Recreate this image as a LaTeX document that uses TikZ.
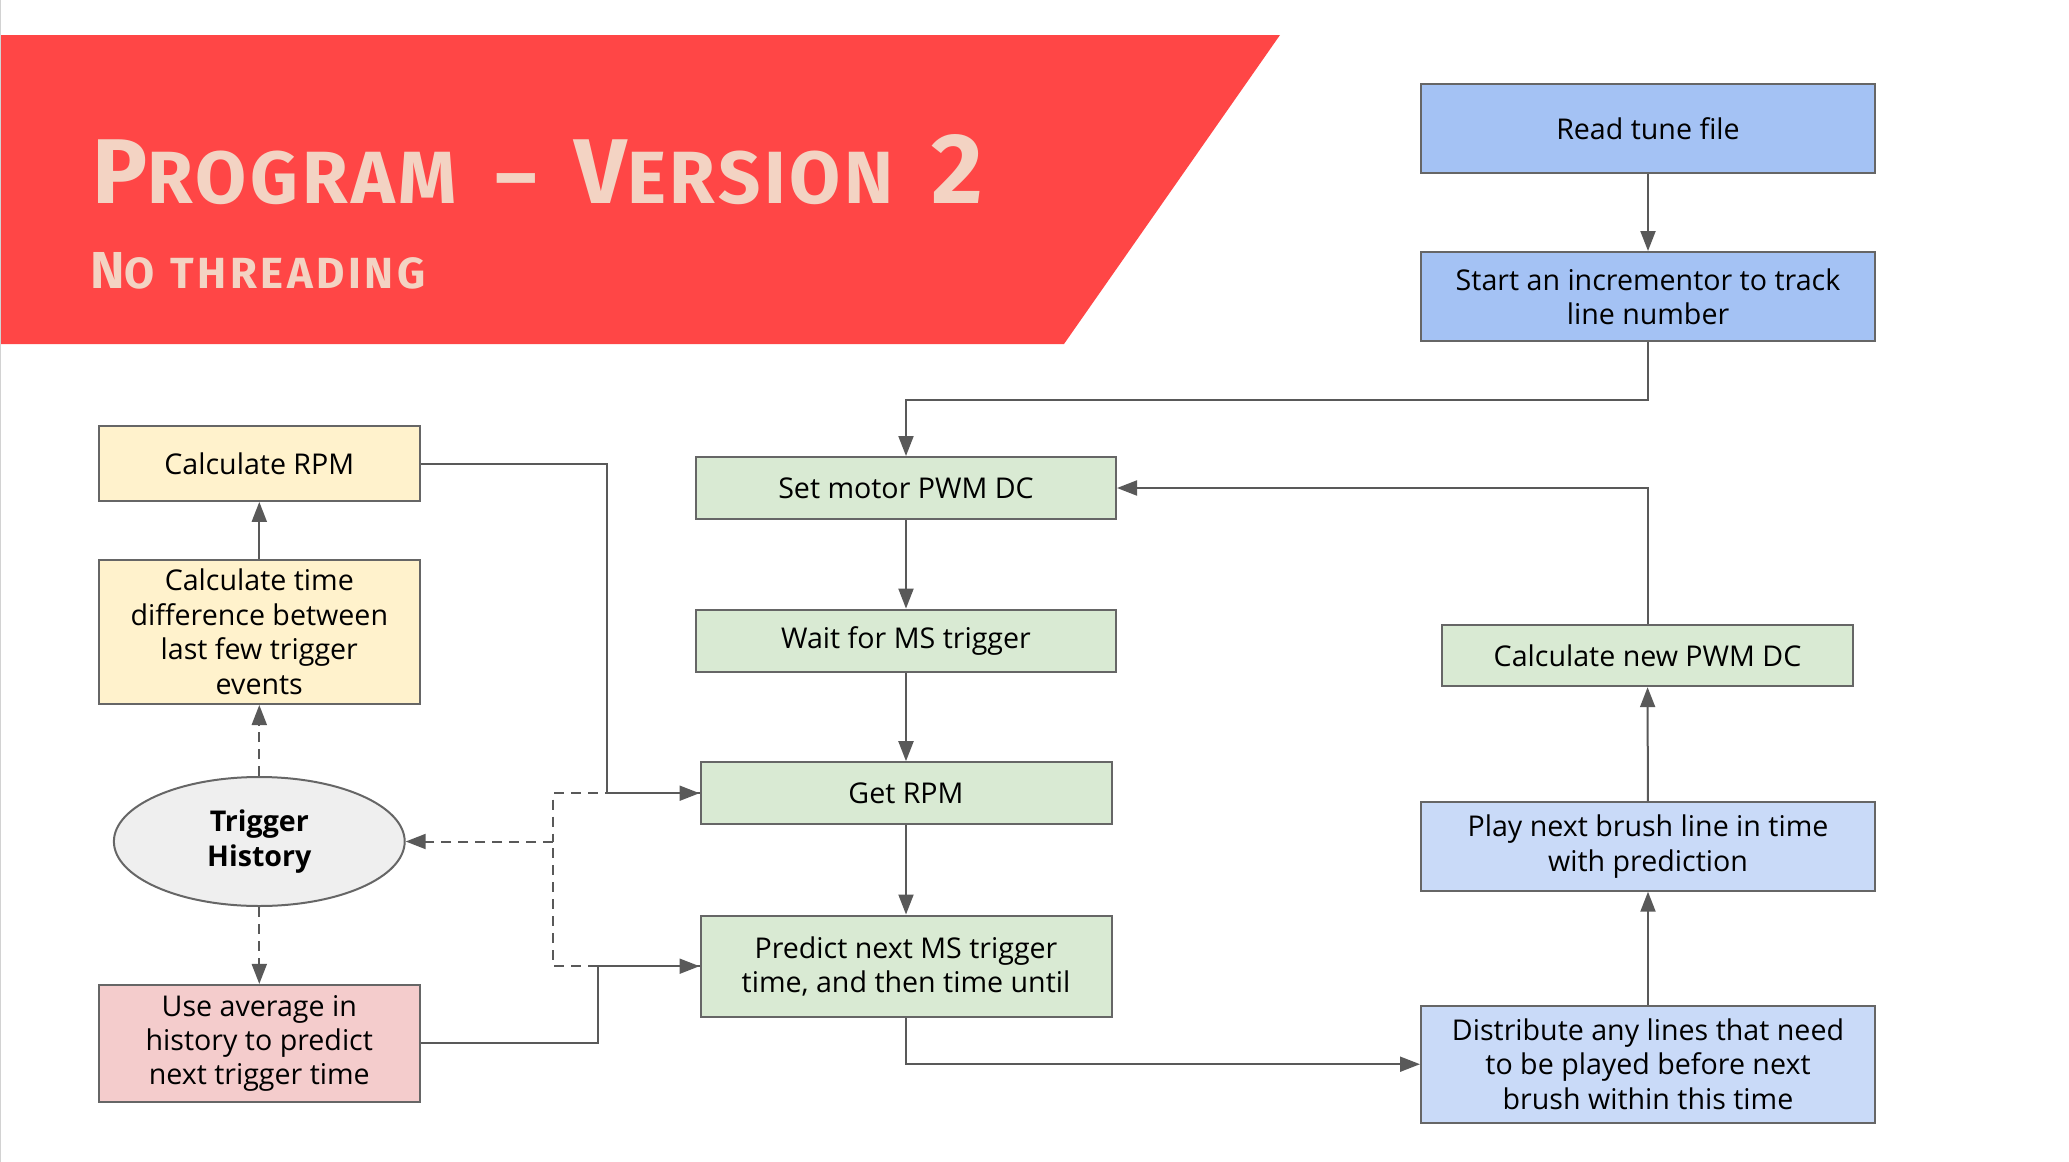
\documentclass[tikz,border=0pt]{standalone}
\usepackage{fontspec}
\setmainfont{Open Sans}
\newfontfamily\titlefont{Fira Sans}
\usetikzlibrary{arrows.meta,positioning,shapes.geometric}
\definecolor{banner}{HTML}{FF4646}
\definecolor{peach}{HTML}{F3D3C3}
\definecolor{edge}{HTML}{666666}
\definecolor{wire}{HTML}{595959}
\definecolor{tuneblue}{HTML}{A4C2F4}
\definecolor{brushblue}{HTML}{C9DAF8}
\definecolor{motorgreen}{HTML}{D9EAD3}
\definecolor{rpmyellow}{HTML}{FFF2CC}
\definecolor{predpink}{HTML}{F4CCCC}
\definecolor{histgray}{HTML}{EFEFEF}
\newcommand\boxfont{\fontsize{14.3}{17.2}\selectfont}
\newcommand\tcap[4]{{\fontsize{#1}{#1}\selectfont #3}{\fontsize{#2}{#2}\selectfont #4}}
\tikzset{
	blk/.style={draw=edge, line width=1pt, align=center, font=\boxfont,
		inner sep=2pt, text=black},
	tune/.style={blk, fill=tuneblue},
	brush/.style={blk, fill=brushblue},
	motor/.style={blk, fill=motorgreen},
	rpm/.style={blk, fill=rpmyellow},
	pred/.style={blk, fill=predpink},
	hist/.style={blk, ellipse, fill=histgray, inner sep=0pt, font=\boxfont\bfseries},
	ar/.style={draw=wire, line width=1pt, -{Triangle[length=10pt, width=7.5pt]}},
	dline/.style={draw=wire, line width=1pt, dash pattern=on 5pt off 3.5pt},
	dar/.style={ar, dline},
	ttl/.style={anchor=base west, inner sep=0pt, text=peach},
}
\begin{document}
\begin{tikzpicture}[x=0.5pt, y=-0.5pt]
	\useasboundingbox (0,0) rectangle (2069,1162);
	% banner
	\fill[banner] (0,35) -- (1280,35) -- (1064,344) -- (0,344) -- cycle;
	\draw[gray!35, line width=0.5pt] (0.5,0) -- (0.5,1162);
	\node[ttl, font=\titlefont\bfseries\addfontfeature{LetterSpace=5}] at (92,203) (title)
		{\tcap{46}{37}{P}{ROGRAM}\hspace{19pt}\tcap{46}{40}{}{–}\hspace{19pt}\tcap{46}{37}{V}{ERSION}\hspace{19pt}\tcap{50}{37}{2}{}};
	\node[ttl, font=\titlefont\bfseries\addfontfeature{LetterSpace=8}] at (90,288) (subtitle)
		{\tcap{26}{21.8}{N}{O}\hspace{8pt}\tcap{26}{21.8}{}{THREADING}};
	% right column
	\node[tune, minimum width=227pt, minimum height=44.5pt] at (1648,128.5) (read) {Read tune file};
	\node[tune, minimum width=227pt, minimum height=44.5pt] at (1648,296.5) (start) {Start an incrementor to track\\line number};
	\node[motor, minimum width=205.5pt, minimum height=30.5pt] at (1647.5,655.7) (newpwm) {Calculate new PWM DC};
	\node[brush, minimum width=227pt, minimum height=44.2pt] at (1648,846.5) (play) {Play next brush line in time\\with prediction};
	\node[brush, minimum width=227pt, minimum height=58.7pt] at (1648,1064.2) (distrib) {Distribute any lines that need\\to be played before next\\brush within this time};
	% middle column
	\node[motor, minimum width=210pt, minimum height=31pt] at (906,488) (setpwm) {Set motor PWM DC};
	\node[motor, minimum width=210pt, minimum height=31pt] at (906,640.6) (wait) {Wait for MS trigger};
	\node[motor, minimum width=205.5pt, minimum height=31pt] at (906,793.2) (getrpm) {Get RPM};
	\node[motor, minimum width=205.5pt, minimum height=50.7pt] at (906,966.2) (predict) {Predict next MS trigger\\time, and then time until};
	% left column
	\node[rpm, minimum width=160.6pt, minimum height=37.4pt] at (259.3,463.5) (calcrpm) {Calculate RPM};
	\node[rpm, minimum width=160.6pt, minimum height=72.2pt] at (259.3,631.8) (calctime) {Calculate time\\difference between\\last few trigger\\events};
	\node[hist, minimum width=145.4pt, minimum height=64.5pt] at (259.3,841.5) (trig) {Trigger\\History};
	\node[pred, minimum width=160.6pt, minimum height=58.5pt] at (259.3,1043.4) (useavg) {Use average in\\history to predict\\next trigger time};
	\coordinate (junc) at (553,841.5);
	% connectors
	\draw[ar] (read) -- (start);
	\draw[ar] (start.south) -- ++(0,57.5) -| (setpwm.north);
	\draw[ar] (setpwm) -- (wait);
	\draw[ar] (wait) -- (getrpm);
	\draw[ar] (getrpm) -- (predict);
	\draw[ar] (predict.south) |- (distrib.west);
	\draw[ar] (distrib) -- (play);
	\draw[ar] (play) -- (newpwm);
	\draw[ar] (newpwm.north) |- (setpwm.east);
	\draw[ar] (calctime) -- (calcrpm);
	\draw[dline] (getrpm.west) -| (junc);
	\draw[dline] (predict.west) -| (junc);
	\draw[dar] (junc) -- (trig.east);
	\draw[ar] (calcrpm.east) -- ++(186.5,0) |- (getrpm.west);
	\draw[ar] (useavg.east) -- ++(177.5,0) |- (predict.west);
	\draw[dar] (trig) -- (calctime);
	\draw[dar] (trig) -- (useavg);
\end{tikzpicture}
\end{document}
